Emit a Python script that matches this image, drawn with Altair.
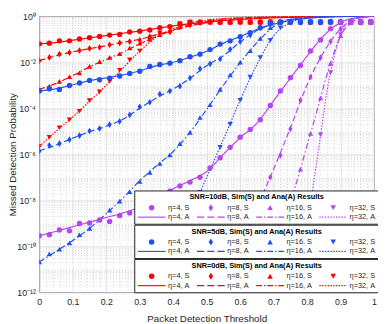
import altair as alt
import pandas as pd

# ---------------- threshold grids ----------------
ana_x = [0.00, 0.05, 0.10, 0.15, 0.20, 0.25, 0.30, 0.35, 0.40, 0.45, 0.50,
         0.55, 0.60, 0.65, 0.70, 0.75, 0.80, 0.85, 0.90, 0.95, 1.00]
sim_x = [0.00, 0.03, 0.06, 0.09, 0.12, 0.15, 0.18, 0.21, 0.24, 0.27, 0.30, 0.33,
         0.36, 0.39, 0.42, 0.45, 0.48, 0.51, 0.54, 0.57, 0.60, 0.63, 0.66, 0.69,
         0.72, 0.75, 0.78, 0.81, 0.84, 0.87, 0.90, 0.93, 0.96, 0.99]

eta_names = ["η=4", "η=8", "η=16", "η=32"]
N = None

# values below are log10(missed detection probability)
# ---------------- SNR = 0 dB ----------------
snr0_eta4_ana = [-1.2, -1.14, -1.04, -0.94, -0.84, -0.74, -0.64, -0.53, -0.42, -0.33, -0.25,
                 -0.19, -0.14, -0.1, -0.07, -0.05, -0.03, -0.02, -0.01, -0.005, 0]
snr0_eta8_ana = [-1.93, -1.72, -1.55, -1.41, -1.28, -1.14, -1.0, -0.8, -0.62, -0.42, -0.28,
                 -0.18, -0.11, -0.07, -0.04, -0.025, -0.015, -0.01, -0.005, -0.002, 0]
snr0_eta16_ana = [-3.18, -2.92, -2.58, -2.2, -1.88, -1.56, -1.2, -0.88, -0.6, -0.37, -0.22,
                  -0.13, -0.08, -0.05, -0.03, -0.02, -0.01, -0.006, -0.003, -0.001, 0]
snr0_eta32_ana = [-5.67, -5.0, -4.38, -3.7, -3.0, -2.25, -1.52, -0.9, -0.55, -0.3, -0.17,
                  -0.1, -0.06, -0.04, -0.02, -0.015, -0.01, -0.005, -0.003, -0.001, 0]
snr0_eta4_sim = [-1.2, -1.17, -1.07, -1.07, -0.99, -0.93, -0.88, -0.82, -0.79, -0.68, -0.65, -0.6,
                 -0.5, -0.45, -0.33, -0.26, -0.26, -0.25, -0.26, -0.26, -0.25, -0.26, -0.26, -0.25,
                 -0.26, -0.26, -0.25, -0.26, -0.26, -0.25, -0.26, -0.26, -0.25, -0.26]
snr0_eta8_sim = [-1.93, -1.79, -1.65, -1.58, -1.49, -1.4, -1.35, -1.24, -1.16, -1.1, -1.04, -0.89,
                 -0.75, -0.68, -0.47, -0.38, -0.28, -0.25, -0.25, -0.25, -0.25, -0.25, -0.25, -0.25,
                 -0.25, -0.25, -0.25, -0.25, -0.25, -0.25, -0.25, -0.25, -0.25, -0.25]
snr0_eta16_sim = [-3.18, -3.04, -2.83, -2.63, -2.46, -2.18, -1.97, -1.79, -1.63, -1.38, -1.17, -1.0,
                  -0.8, -0.62, -0.45, -0.33, -0.26, -0.25, -0.25, -0.25, -0.25, -0.25, -0.25, -0.25,
                  -0.25, -0.25, -0.25, -0.25, -0.25, -0.25, -0.25, -0.25, -0.25, -0.25]
snr0_eta32_sim = [-5.67, -5.26, -4.85, -4.5, -4.13, -3.67, -3.29, -2.83, -2.35, -1.9, -1.51, -1.03,
                  -0.72, -0.5, -0.33, -0.25, -0.25, -0.25, -0.25, -0.25, -0.25, -0.25, -0.25, -0.25,
                  -0.25, -0.25, -0.25, -0.25, -0.25, -0.25, -0.25, -0.25, -0.25, -0.25]

# ---------------- SNR = 5 dB ----------------
snr5_eta4_ana = [-3.25, -3.15, -2.98, -2.8, -2.68, -2.55, -2.37, -2.15, -2.0, -1.78, -1.52,
                 -1.17, -0.88, -0.58, -0.35, -0.18, -0.09, -0.04, -0.015, -0.005, 0]
snr5_eta8_ana = [-5.85, -5.6, -5.3, -5.02, -4.78, -4.48, -4.0, -3.55, -3.17, -2.7, -2.15,
                 -1.72, -1.12, -0.62, -0.3, -0.13, -0.05, -0.02, -0.008, -0.003, 0]
snr5_eta16_ana = [-10.68, -10.22, -9.75, -9.22, -8.58, -7.9, -7.15, -6.5, -5.88, -5.05, -4.05,
                  -3.0, -2.02, -1.15, -0.45, -0.15, -0.05, -0.015, -0.005, -0.002, 0]
snr5_eta32_x = [0.34, 0.40, 0.45, 0.50, 0.55, 0.60, 0.65, 0.70, 0.75, 0.80, 0.85, 0.90, 0.95, 1.00]
snr5_eta32_ana = [-12.2, -10.2, -8.65, -7.0, -5.35, -3.65, -2.1, -0.85, -0.28, -0.08, -0.02,
                  -0.006, -0.002, 0]
snr5_eta4_sim = [-3.25, -3.15, -3.18, -3.01, -2.9, -2.79, -2.76, -2.69, -2.6, -2.49, -2.39, -2.18,
                 -2.1, -2.04, -1.93, -1.76, -1.65, -1.45, -1.21, -1.07, -0.89, -0.71, -0.5, -0.33,
                 -0.26, -0.25, -0.26, -0.25, -0.26, -0.25, -0.26, -0.25, -0.26, -0.25]
snr5_eta8_sim = [-5.86, -5.61, -5.54, -5.36, -5.19, -4.99, -4.88, -4.71, -4.57, -4.29, -3.94, -3.74,
                 -3.39, -3.25, -3.04, -2.69, -2.28, -2.07, -1.86, -1.44, -1.1, -0.82, -0.5, -0.3,
                 -0.25, -0.25, -0.25, -0.25, -0.25, -0.25, -0.25, -0.25, -0.25, -0.25]
snr5_eta16_sim = [-10.68, -10.33, -10.13, -9.85, -9.5, -9.22, -8.85, -8.43, -8.04, -7.63, -7.18, -6.79,
                  -6.4, -6.03, -5.54, -5.05, -4.4, -3.85, -3.18, -2.55, -2.0, -1.5, -0.96, -0.5,
                  -0.25, -0.25, -0.25, -0.25, -0.25, -0.25, -0.25, -0.25, -0.25, -0.25]
snr5_eta32_sim = [N, N, N, N, N, N, N, N, N, N, N, N,
                  -11.55, -10.5, -9.55, -8.6, -7.65, -6.65, -5.7, -4.7, -3.65, -2.65, -1.8, -1.05,
                  -0.5, -0.25, -0.25, -0.25, -0.25, -0.25, -0.25, -0.25, -0.25, -0.25]

# ---------------- SNR = 10 dB ----------------
snr10_eta4_ana = [-9.54, -9.35, -9.15, -8.95, -8.75, -8.55, -8.3, -7.95, -7.5, -7.15, -6.75,
                  -6.0, -5.28, -4.65, -3.67, -2.69, -1.73, -0.84, -0.27, -0.06, 0]
snr10_eta8_x = [0.53, 0.56, 0.60, 0.65, 0.70, 0.75, 0.80, 0.85, 0.90, 0.95, 1.00]
snr10_eta8_ana = [-12.3, -11.3, -10.0, -8.3, -6.65, -4.85, -2.98, -1.55, -0.54, -0.1, 0]
snr10_eta16_x = [0.65, 0.70, 0.75, 0.78, 0.80, 0.82, 0.84, 0.86, 0.88, 0.90, 0.93, 0.96, 1.00]
snr10_eta16_ana = [-12.9, -10.5, -8.1, -6.65, -5.6, -4.6, -3.55, -2.5, -1.6, -0.85, -0.3, -0.08, 0]
snr10_eta32_x = [0.76, 0.80, 0.82, 0.84, 0.86, 0.88, 0.90, 0.92, 0.95, 1.00]
snr10_eta32_ana = [-12.5, -9.0, -7.2, -5.2, -3.2, -1.8, -0.8, -0.3, -0.08, 0]
snr10_eta4_sim = [-9.54, -9.5, -9.29, -9.33, -9.01, -8.99, -8.85, -8.92, -8.67, -8.55, -8.4, -8.1,
                  -7.8, -7.6, -7.38, -7.21, -7.0, -6.6, -6.15, -5.7, -5.26, -4.92, -4.5, -3.88,
                  -3.25, -2.67, -2.14, -1.51, -1.03, -0.54, -0.26, -0.26, -0.26, -0.26]
snr10_eta8_sim = [N, N, N, N, N, N, N, N, N, N, N, N,
                  N, N, N, N, N, N, -12.0, -11.0, -10.05, -9.0, -8.0, -7.0,
                  -6.05, -4.9, -3.65, -2.65, -1.8, -1.1, -0.55, -0.25, -0.25, -0.25]
snr10_eta16_sim = [N, N, N, N, N, N, N, N, N, N, N, N,
                   N, N, N, N, N, N, N, N, N, N, N, -10.0,
                   -9.0, -8.1, -6.65, -5.1, -3.55, -2.05, -0.85, -0.27, -0.25, -0.25]
snr10_eta32_sim = [N, N, N, N, N, N, N, N, N, N, N, N,
                   N, N, N, N, N, N, N, N, N, N, N, N,
                   N, N, -10.7, -8.1, -5.15, -2.45, -0.8, -0.25, -0.25, -0.25]

# ---------------- axis tick labels ----------------
x_tick_values = [0.0, 0.1, 0.2, 0.3, 0.4, 0.5, 0.6, 0.7, 0.8, 0.9, 1.0]
x_tick_labels = ["0", "0.1", "0.2", "0.3", "0.4", "0.5", "0.6", "0.7", "0.8", "0.9", "1"]
y_tick_exps = [0, -2, -4, -6, -8, -10, -12]
y_tick_labels = ["10⁰", "10⁻²", "10⁻⁴", "10⁻⁶", "10⁻⁸", "10⁻¹⁰", "10⁻¹²"]

groups = [
    {"title": "SNR=0dB, Sim(S) and Ana(A) Results", "color": "#ff0000", "legend_y": 248,
     "ana": [(ana_x, snr0_eta4_ana), (ana_x, snr0_eta8_ana), (ana_x, snr0_eta16_ana), (ana_x, snr0_eta32_ana)],
     "sim": [snr0_eta4_sim, snr0_eta8_sim, snr0_eta16_sim, snr0_eta32_sim]},
    {"title": "SNR=5dB, Sim(S) and Ana(A) Results", "color": "#1f4ff5", "legend_y": 213,
     "ana": [(ana_x, snr5_eta4_ana), (ana_x, snr5_eta8_ana), (ana_x, snr5_eta16_ana), (snr5_eta32_x, snr5_eta32_ana)],
     "sim": [snr5_eta4_sim, snr5_eta8_sim, snr5_eta16_sim, snr5_eta32_sim]},
    {"title": "SNR=10dB, Sim(S) and Ana(A) Results", "color": "#b445f0", "legend_y": 178,
     "ana": [(ana_x, snr10_eta4_ana), (snr10_eta8_x, snr10_eta8_ana), (snr10_eta16_x, snr10_eta16_ana), (snr10_eta32_x, snr10_eta32_ana)],
     "sim": [snr10_eta4_sim, snr10_eta8_sim, snr10_eta16_sim, snr10_eta32_sim]},
]

# ---------------- scales / axes ----------------
legend_domain = [e + ", S" for e in eta_names] + [e + ", A" for e in eta_names]
diamond = "M0,-1.25L0.8,0L0,1.25L-0.8,0Z"


def bar_path(segments):
    # legend line sample drawn as thin filled bars (one per dash)
    return " ".join(f"M{a},-0.2H{b}V0.2H{a}Z" for a, b in segments)


solid_sym = bar_path([(-5, 5)])
dashed_sym = bar_path([(-5, -2.4), (-1.3, 1.3), (2.4, 5)])
dashdot_sym = bar_path([(-5, -2.9), (-2.2, -1.7), (-1.0, 1.1), (1.8, 2.3), (3.0, 5)])
dotted_sym = bar_path([(-5 + i, -4.5 + i) for i in range(10)])

shape_scale = alt.Scale(domain=legend_domain,
                        range=["circle", diamond, "triangle-up", "triangle-down",
                               solid_sym, dashed_sym, dashdot_sym, dotted_sym])
dash_scale = alt.Scale(domain=legend_domain,
                       range=[[1, 0], [1, 0], [1, 0], [1, 0],
                              [1, 0], [6, 3], [6, 2.5, 1.5, 2.5], [1.5, 1.5]])

x_minor = [round(i * 0.02, 2) for i in range(51)]
x_major_test = "abs(datum.value*10 - round(datum.value*10)) < 1e-6"
x_label_expr = " : ".join(
    f"abs(datum.value - {v}) < 1e-6 ? '{t}'" for v, t in zip(x_tick_values, x_tick_labels)) + " : ''"

y_all = [m * 10.0 ** k for k in range(-12, 0) for m in range(1, 10)] + [1.0]
e_expr = "round(log(datum.value)/LN10)"
is_dec = f"abs(log(datum.value)/LN10 - {e_expr}) < 1e-6"
y_major_test = f"{is_dec} && {e_expr} % 2 == 0"
y_label_expr = " : ".join(
    f"({is_dec} && {e_expr} == {e}) ? '{t}'" for e, t in zip(y_tick_exps, y_tick_labels)) + " : ''"

grid_minor_color = "#cfcfcf"
grid_major_color = "#dcdcdc"

x_axis = alt.Axis(values=x_minor, labelExpr=x_label_expr, title="Packet Detection Threshold",
                  ticks=False, domain=False, labelOverlap=False, labelFlush=False,
                  labelPadding=5, titlePadding=8, labelFontSize=9, titleFontSize=10,
                  titleFontWeight="normal", labelColor="#262626", titleColor="#262626",
                  gridColor={"condition": {"test": x_major_test, "value": grid_major_color}, "value": grid_minor_color},
                  gridDash={"condition": {"test": x_major_test, "value": []}, "value": [1, 2]},
                  gridWidth=0.8)
y_axis = alt.Axis(values=y_all, labelExpr=y_label_expr, title="Missed Detection Probability",
                  ticks=False, domain=False, labelOverlap=False, labelFlush=False,
                  labelPadding=4, labelFontSize=9, titleFontSize=10, titleFontWeight="normal",
                  labelColor="#262626", titleColor="#262626", titleX=-22, titleY=141,
                  titleBaseline="bottom",
                  gridColor={"condition": {"test": y_major_test, "value": grid_major_color}, "value": grid_minor_color},
                  gridDash={"condition": {"test": y_major_test, "value": []}, "value": [1, 2]},
                  gridWidth=0.8)

X = alt.X("x:Q", scale=alt.Scale(domain=[0, 1], nice=False, zero=False), axis=x_axis)
Y = alt.Y("y:Q", scale=alt.Scale(type="log", domain=[1e-12, 1], nice=False), axis=y_axis)

legend_common = dict(orient="none", legendX=97, direction="horizontal", columns=4,
                     columnPadding=6.5, rowPadding=1,
                     padding=3, titlePadding=3, symbolSize=32, symbolOffset=11, labelOffset=13,
                     symbolStrokeWidth=0, labelFont="Liberation Sans", labelFontSize=7.5,
                     labelColor="#262626", titleFont="Liberation Sans", titleFontSize=7.5,
                     titleFontWeight="bold", titleColor="#000000", titleAnchor="middle",
                     fillColor="#ffffff", strokeColor="#262626")

layers = []
for g in groups:
    lrows = []
    for eta, (xs, es) in zip(eta_names, g["ana"]):
        lrows += [{"x": x, "y": 10.0 ** e, "k": eta + ", A"} for x, e in zip(xs, es)]
    prows = []
    for eta, es in reversed(list(zip(eta_names, g["sim"]))):
        prows += [{"x": x, "y": 10.0 ** e, "k": eta + ", S"} for x, e in zip(sim_x, es) if e is not None]
    leg = alt.Legend(title=g["title"], legendY=g["legend_y"], symbolFillColor=g["color"],
                     symbolStrokeColor=g["color"], **legend_common)
    lines = alt.Chart(pd.DataFrame(lrows)).mark_line(
        color=g["color"], strokeWidth=1.2, clip=True, interpolate="monotone"
    ).encode(x=X, y=Y, strokeDash=alt.StrokeDash("k:N", scale=dash_scale, legend=leg))
    pts = alt.Chart(pd.DataFrame(prows)).mark_point(
        filled=True, opacity=1, size=30, color=g["color"], clip=True
    ).encode(x=X, y=Y, shape=alt.Shape("k:N", scale=shape_scale, legend=leg))
    layers.append(alt.layer(lines, pts))

chart = alt.layer(*layers).resolve_scale(
    shape="independent", strokeDash="independent"
).properties(
    width=342, height=282,
    autosize=alt.AutoSizeParams(type="none"),
    padding={"left": 32, "top": 5, "right": 4, "bottom": 29},
).configure(font="Liberation Sans").configure_view(stroke="#404040", strokeWidth=0.8)

chart.save("out.html", embed_options={"renderer": "svg", "actions": False})
